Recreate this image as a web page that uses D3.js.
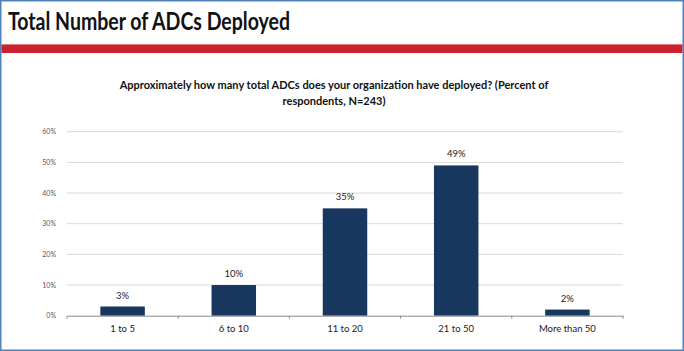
<!DOCTYPE html>
<html>
<head>
    <script src="https://d3js.org/d3.v7.min.js"></script>
    <style>
        body { margin: 0; background: #fff; }
        svg { display: block; font-family: Lato, "Noto Sans", sans-serif; }
    </style>
</head>
<body>
    <svg id="chart" width="684" height="351"></svg>
    <script>
        const categories = ["1 to 5", "6 to 10", "11 to 20", "21 to 50", "More than 50"];
        const percents = [3, 10, 35, 49, 2];
        const yTicks = [0, 10, 20, 30, 40, 50, 60];

        const svg = d3.select("#chart");
        const W = 684, H = 351;

        // frame + header
        svg.append("rect").attr("x", 0.75).attr("y", 0.75)
            .attr("width", W - 1.5).attr("height", H - 1.5)
            .attr("fill", "#fff").attr("stroke", "#4f81bd").attr("stroke-width", 1.5);

        svg.append("text").attr("x", 8).attr("y", 30)
            .attr("font-size", 25).attr("font-weight", 700).attr("fill", "#111")
            .attr("textLength", 282).attr("lengthAdjust", "spacingAndGlyphs")
            .text("Total Number of ADCs Deployed");

        svg.append("rect").attr("x", 1.5).attr("y", 44).attr("width", W - 3).attr("height", 9)
            .attr("fill", "#cc2230");
        svg.append("rect").attr("x", 1.5).attr("y", 44).attr("width", W - 3).attr("height", 1)
            .attr("fill", "#e27a82");

        // subtitle
        const sub = svg.append("text").attr("text-anchor", "middle")
            .attr("font-size", 11).attr("font-weight", 700).attr("fill", "#111");
        sub.append("tspan").attr("x", 334).attr("y", 89)
            .text("Approximately how many total ADCs does your organization have deployed? (Percent of");
        sub.append("tspan").attr("x", 334).attr("y", 105).text("respondents, N=243)");

        const margin = { left: 67, right: 61, top: 131.7, bottom: 35.3 };
        const x = d3.scaleBand().domain(categories).range([margin.left, W - margin.right]);
        const y = d3.scaleLinear().domain([0, 60]).range([H - margin.bottom, margin.top]);

        // gridlines
        svg.append("g").selectAll("line").data(yTicks.filter(d => d > 0)).join("line")
            .attr("x1", margin.left).attr("x2", W - margin.right)
            .attr("y1", d => y(d)).attr("y2", d => y(d))
            .attr("stroke", "#d9d9d9").attr("stroke-width", 1);

        // y axis labels
        const yAxis = svg.append("g").attr("transform", `translate(${margin.left - 8},0)`)
            .call(d3.axisLeft(y).tickValues(yTicks).tickSize(0).tickFormat(d => d + "%"));
        yAxis.select(".domain").remove();
        yAxis.selectAll("text").attr("font-size", 7).attr("fill", "#595959")
            .attr("font-family", "Lato, sans-serif");

        // bars
        const barW = x.bandwidth() * 0.4;
        svg.append("g").selectAll("rect").data(percents).join("rect")
            .attr("x", (d, i) => x(categories[i]) + (x.bandwidth() - barW) / 2)
            .attr("width", barW)
            .attr("y", d => y(d))
            .attr("height", d => y(0) - y(d))
            .attr("fill", "#17375e");

        // value labels
        svg.append("g").selectAll("text").data(percents).join("text")
            .attr("x", (d, i) => x(categories[i]) + x.bandwidth() / 2)
            .attr("y", d => y(d) - 8)
            .attr("text-anchor", "middle").attr("font-size", 9.5).attr("fill", "#222")
            .text(d => d + "%");

        // x axis
        const xAxis = svg.append("g").attr("transform", `translate(0,${y(0)})`)
            .call(d3.axisBottom(x).tickSize(0).tickPadding(10));
        xAxis.select(".domain").attr("stroke", "#8c8c8c");
        xAxis.selectAll("text").attr("font-size", 9.5).attr("fill", "#222")
            .attr("font-family", "Lato, sans-serif");

        const bounds = categories.map(c => x(c)).concat([x.range()[1]]);
        svg.append("g").selectAll("line").data(bounds).join("line")
            .attr("x1", d => d).attr("x2", d => d)
            .attr("y1", y(0)).attr("y2", y(0) + 3)
            .attr("stroke", "#8c8c8c");
    </script>
</body>
</html>
